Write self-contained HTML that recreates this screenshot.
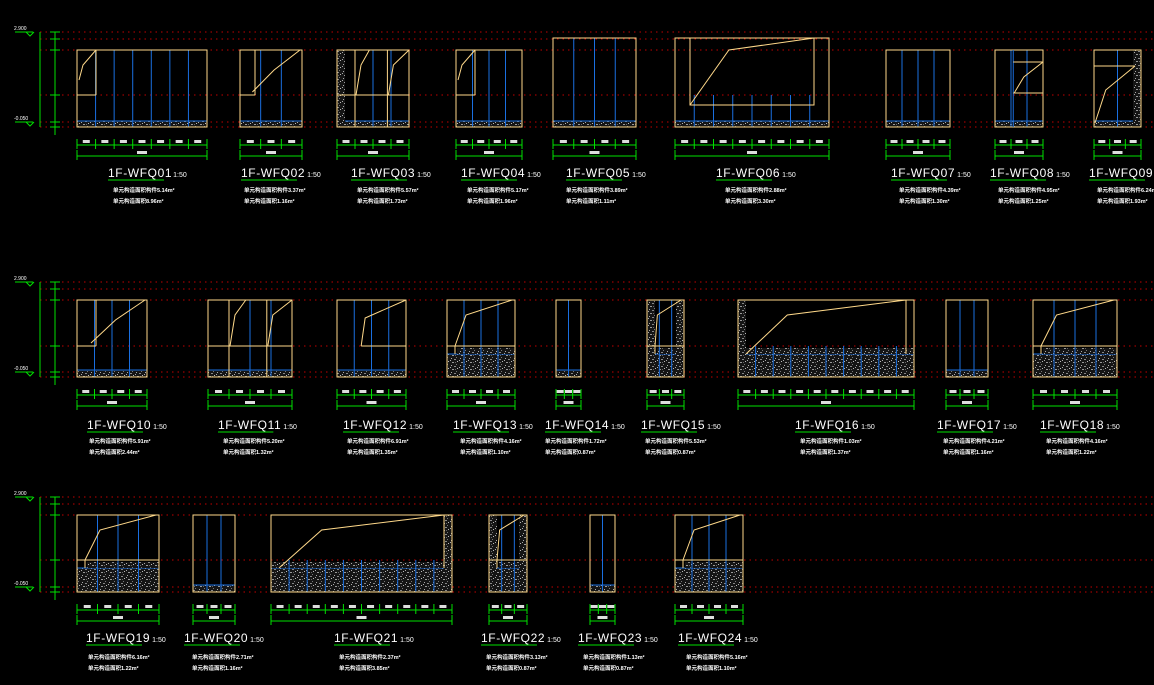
<!DOCTYPE html>
<html><head><meta charset="utf-8"><style>
html,body{margin:0;padding:0;background:#000;width:1154px;height:685px;overflow:hidden}
svg{display:block}
.t{font-family:"Liberation Sans",sans-serif;fill:#fff;font-size:12px;letter-spacing:0.6px}
.s{font-family:"Liberation Sans",sans-serif;fill:#fff;font-size:7px;letter-spacing:0}
.c{font-family:"Liberation Sans","Noto Sans CJK SC",sans-serif;fill:#fff;font-size:5.5px;font-weight:bold}
</style></head><body>
<svg id="g" width="1154" height="685" viewBox="0 0 1154 685" xmlns="http://www.w3.org/2000/svg">
<defs>
<pattern id="sp" width="9" height="7" patternUnits="userSpaceOnUse">
<rect width="9" height="7" fill="#151515"/>
<rect x="1" y="1" width="1" height="1" fill="#aaa"/><rect x="4" y="2" width="2" height="1" fill="#888"/>
<rect x="7" y="4" width="1" height="1" fill="#bbb"/><rect x="2" y="5" width="2" height="1" fill="#999"/>
<rect x="6" y="0" width="1" height="1" fill="#777"/><rect x="0" y="3" width="1" height="1" fill="#aaa"/>
<rect x="5" y="5" width="1" height="1" fill="#666"/>
</pattern>
</defs>
<g id="shapes"></g>
<text class="t" x="108" y="177">1F-WFQ01<tspan class="s" dx="1">1:50</tspan></text>
<text class="t" x="241" y="177">1F-WFQ02<tspan class="s" dx="2">1:50</tspan></text>
<text class="t" x="351" y="177">1F-WFQ03<tspan class="s" dx="2">1:50</tspan></text>
<text class="t" x="461" y="177">1F-WFQ04<tspan class="s" dx="2">1:50</tspan></text>
<text class="t" x="566" y="177">1F-WFQ05<tspan class="s" dx="2">1:50</tspan></text>
<text class="t" x="716" y="177">1F-WFQ06<tspan class="s" dx="2">1:50</tspan></text>
<text class="t" x="891" y="177">1F-WFQ07<tspan class="s" dx="2">1:50</tspan></text>
<text class="t" x="990" y="177">1F-WFQ08<tspan class="s" dx="2">1:50</tspan></text>
<text class="t" x="1089" y="177">1F-WFQ09<tspan class="s" dx="2">1:50</tspan></text>
<text class="t" x="87" y="429">1F-WFQ10<tspan class="s" dx="2">1:50</tspan></text>
<text class="t" x="218" y="429">1F-WFQ11<tspan class="s" dx="2">1:50</tspan></text>
<text class="t" x="343" y="429">1F-WFQ12<tspan class="s" dx="2">1:50</tspan></text>
<text class="t" x="453" y="429">1F-WFQ13<tspan class="s" dx="2">1:50</tspan></text>
<text class="t" x="545" y="429">1F-WFQ14<tspan class="s" dx="2">1:50</tspan></text>
<text class="t" x="641" y="429">1F-WFQ15<tspan class="s" dx="2">1:50</tspan></text>
<text class="t" x="795" y="429">1F-WFQ16<tspan class="s" dx="2">1:50</tspan></text>
<text class="t" x="937" y="429">1F-WFQ17<tspan class="s" dx="2">1:50</tspan></text>
<text class="t" x="1040" y="429">1F-WFQ18<tspan class="s" dx="2">1:50</tspan></text>
<text class="t" x="86" y="642">1F-WFQ19<tspan class="s" dx="2">1:50</tspan></text>
<text class="t" x="184" y="642">1F-WFQ20<tspan class="s" dx="2">1:50</tspan></text>
<text class="t" x="334" y="642">1F-WFQ21<tspan class="s" dx="2">1:50</tspan></text>
<text class="t" x="481" y="642">1F-WFQ22<tspan class="s" dx="2">1:50</tspan></text>
<text class="t" x="578" y="642">1F-WFQ23<tspan class="s" dx="2">1:50</tspan></text>
<text class="t" x="678" y="642">1F-WFQ24<tspan class="s" dx="2">1:50</tspan></text>
<g class="c">
<text x="113" y="192">单元构造面积构件5.14m²</text><text x="113" y="203">单元构造面积8.96m²</text>
<text x="244" y="192">单元构造面积构件3.37m²</text><text x="244" y="203">单元构造面积1.16m²</text>
<text x="357" y="192">单元构造面积构件5.57m²</text><text x="357" y="203">单元构造面积1.73m²</text>
<text x="467" y="192">单元构造面积构件5.17m²</text><text x="467" y="203">单元构造面积1.96m²</text>
<text x="566" y="192">单元构造面积构件3.89m²</text><text x="566" y="203">单元构造面积1.11m²</text>
<text x="725" y="192">单元构造面积构件2.88m²</text><text x="725" y="203">单元构造面积3.30m²</text>
<text x="899" y="192">单元构造面积构件4.39m²</text><text x="899" y="203">单元构造面积1.30m²</text>
<text x="998" y="192">单元构造面积构件4.95m²</text><text x="998" y="203">单元构造面积1.25m²</text>
<text x="1097" y="192">单元构造面积构件6.24m²</text><text x="1097" y="203">单元构造面积1.93m²</text>
<text x="89" y="443">单元构造面积构件5.91m²</text><text x="89" y="454">单元构造面积2.44m²</text>
<text x="223" y="443">单元构造面积构件5.20m²</text><text x="223" y="454">单元构造面积1.32m²</text>
<text x="347" y="443">单元构造面积构件6.91m²</text><text x="347" y="454">单元构造面积1.35m²</text>
<text x="460" y="443">单元构造面积构件4.16m²</text><text x="460" y="454">单元构造面积1.10m²</text>
<text x="545" y="443">单元构造面积构件1.72m²</text><text x="545" y="454">单元构造面积0.87m²</text>
<text x="645" y="443">单元构造面积构件5.53m²</text><text x="645" y="454">单元构造面积0.87m²</text>
<text x="800" y="443">单元构造面积构件1.03m²</text><text x="800" y="454">单元构造面积1.37m²</text>
<text x="943" y="443">单元构造面积构件4.21m²</text><text x="943" y="454">单元构造面积1.16m²</text>
<text x="1046" y="443">单元构造面积构件4.16m²</text><text x="1046" y="454">单元构造面积1.22m²</text>
<text x="88" y="659">单元构造面积构件6.16m²</text><text x="88" y="670">单元构造面积1.22m²</text>
<text x="192" y="659">单元构造面积构件2.71m²</text><text x="192" y="670">单元构造面积1.16m²</text>
<text x="339" y="659">单元构造面积构件2.37m²</text><text x="339" y="670">单元构造面积3.85m²</text>
<text x="486" y="659">单元构造面积构件3.13m²</text><text x="486" y="670">单元构造面积0.87m²</text>
<text x="583" y="659">单元构造面积构件1.13m²</text><text x="583" y="670">单元构造面积0.87m²</text>
<text x="686" y="659">单元构造面积构件5.16m²</text><text x="686" y="670">单元构造面积1.10m²</text>
</g>
</svg>
<script>
var G=document.getElementById('shapes'),h='';
var Y='#ffd98a',B='#1a6fe0',GR='#00e000',R='#c00000';
function L(a,b,c,d,col,w,da){h+='<line x1="'+a+'" y1="'+b+'" x2="'+c+'" y2="'+d+'" stroke="'+col+'" stroke-width="'+(w||1)+'"'+(da?' stroke-dasharray="'+da+'"':'')+'/>';}
function Rc(x,y,w,hh,st,f){h+='<rect x="'+x+'" y="'+y+'" width="'+w+'" height="'+hh+'" fill="'+(f||'none')+'" stroke="'+(st||'none')+'"/>';}
function P(pts,col){h+='<polyline points="'+pts+'" fill="none" stroke="'+col+'" stroke-width="1"/>';}
var rows=[{top:50,mid:95,band:121,bot:127,d1:145,d2:156,ty:172},
{top:300,mid:346,band:370,bot:377,d1:395,d2:406,ty:424},
{top:515,mid:560,band:585,bot:592,d1:610,d2:621,ty:637}];
rows.forEach(function(r){
 [r.top-18,r.top-11,r.top,r.mid,r.bot-5,r.bot].forEach(function(y){L(40,y,1154,y,R,1,'1.5,4');});
 L(40,r.top-18,40,r.bot,GR);L(55,r.top-18,55,r.bot+8,GR);
 [r.top-18,r.top-11,r.top,r.mid,r.bot-5,r.bot].forEach(function(y){L(50,y,60,y,GR);});
 L(15,r.top-18,33,r.top-18,GR);P('26,'+(r.top-18)+' 30,'+(r.top-14)+' 34,'+(r.top-18),GR);
 L(15,r.bot-5,33,r.bot-5,GR);P('26,'+(r.bot-5)+' 30,'+(r.bot-1)+' 34,'+(r.bot-5),GR);
 h+='<text x="14" y="'+(r.top-20)+'" fill="#fff" font-size="5" font-family="Liberation Sans">2.900</text>';
 h+='<text x="14" y="'+(r.bot-7)+'" fill="#fff" font-size="5" font-family="Liberation Sans">-0.050</text>';
});
var P_=[
[0,77,207,'c',19,7],[0,240,302,'c2',15,3],[0,337,409,'d',0,4,0,1],[0,456,522,'c',19,4],
[0,553,636,'n',0,4,1],[0,675,829,'w',0,8,1],[0,886,950,'n',0,4],[0,995,1043,'m',0,3],[0,1094,1141,'r',0,2,0,0,1],
[1,77,147,'c2',19,4],[1,208,292,'d',0,4],[1,337,406,'c3',0,4],[1,447,515,'s',0,4],[1,556,581,'n',0,2],
[1,647,684,'s',0,3,0,1,1],[1,738,914,'w2',0,10,0,1],[1,946,988,'n',0,3,0],[1,1033,1117,'s',0,4],
[2,77,159,'s',0,4],[2,193,235,'n',0,3],[2,271,452,'w2',0,10,0,0,1],[2,489,527,'s',0,3,0,1,1],[2,590,615,'n',0,2],[2,675,743,'s',0,4]];
P_.forEach(function(p){
 var r=rows[p[0]],x1=p[1],x2=p[2],t=p[3],top=p[6]?r.top-12:r.top,W=x2-x1,n=p[5];
 var deep=(t=='s'||t=='w2');
 var bt=deep?r.mid+8:r.band;
 Rc(x1,bt,W,r.bot-bt,B,'url(#sp)');
 if(deep)Rc(x1+(t=='s'?10:0),bt-6,W-(t=='s'?10:0),6,'none','url(#sp)');
 for(var i=1;i<n;i++){var x=x1+W*i/n;L(x,t=='w'||t=='w2'?r.mid:top,x,r.bot,B);}
 if(p[7])Rc(x1,top,8,r.bot-top,'none','url(#sp)');
 if(p[8])Rc(x2-8,top,8,r.bot-top,'none','url(#sp)');
 Rc(x1,top,W,r.bot-top,Y);
 var cx=x1+(p[4]||W*0.3);
 if(t=='c'||t=='c2'){L(x1,r.mid,cx,r.mid,Y);L(cx,top,cx,r.mid,Y);
   if(t=='c')P((x1+2)+','+(r.mid-15)+' '+(x1+6)+','+(top+15)+' '+cx+','+top,Y);
   else P((x1+W*0.2)+','+(r.mid-3)+' '+(x1+W*0.55)+','+(top+20)+' '+(x2-2)+','+top,Y);}
 if(t=='d'){var a=x1+W*0.25,b=x1+W*0.7;L(a,top,a,r.bot,Y);L(b,top,b,r.bot,Y);L(x1,r.mid,x2,r.mid,Y);
   P((a+1)+','+r.mid+' '+(a+6)+','+(top+15)+' '+(a+W*0.2)+','+top,Y);P((b+1)+','+r.mid+' '+(b+6)+','+(top+15)+' '+(x2)+','+top,Y);}
 if(t=='c3'){var a=x1+W*0.35;L(a,r.mid,x2,r.mid,Y);P(a+','+r.mid+' '+(a+4)+','+(top+18)+' '+x2+','+top,Y);}
 if(t=='s'){P((x1+8)+','+(bt-8)+' '+(x1+W*0.28)+','+(top+15)+' '+(x2-3)+','+top,Y);L(x1+8,bt-8,x1+8,bt,Y);L(x1,bt-8,x2,bt-8,Y);}
 if(t=='w'){var a=x1+15,b=x2-15;Rc(a,top,b-a,r.mid-top+10,Y);P(a+','+(r.mid+10)+' '+(x1+W*0.35)+','+(top+12)+' '+b+','+top,Y);}
 if(t=='w2'){var a=x1+8,b=x2-8;L(b,top,b,bt,Y);P(a+','+bt+' '+(x1+W*0.28)+','+(top+15)+' '+b+','+top,Y);}
 if(t=='m'){L(x1+W*0.38,top,x1+W*0.38,r.bot,B);L(x1+W*0.38,top+12,x2,top+12,Y);L(x1+W*0.38,r.mid-2,x2,r.mid-2,Y);
   P((x1+W*0.4)+','+(r.mid-2)+' '+(x1+W*0.6)+','+(top+27)+' '+x2+','+(top+12),Y);}
 if(t=='r'){L(x1,top+16,x2-6,top+16,Y);P((x1+1)+','+(r.bot-4)+' '+(x1+W*0.25)+','+(top+40)+' '+(x2-6)+','+(top+16),Y);}
 L(x1,r.d1,x2,r.d1,GR);L(x1,r.d2,x2,r.d2,GR);
 var k=Math.max(n,3);
 for(var i=0;i<=k;i++){var x=x1+W*i/k;L(x,r.d1-6,x,r.d1+4,GR);
  if(i<k)h+='<rect x="'+(x+W/k/2-3.5)+'" y="'+(r.d1-5)+'" width="7" height="3" fill="#ddd"/>';}
 L(x1,r.d2-6,x1,r.d2+4,GR);L(x2,r.d2-6,x2,r.d2+4,GR);
 h+='<rect x="'+((x1+x2)/2-5)+'" y="'+(r.d2-5)+'" width="10" height="3" fill="#ddd"/>';
});
G.innerHTML=h;
[].forEach.call(document.querySelectorAll('text.t'),function(t){
 var x=+t.getAttribute('x'),y=+t.getAttribute('y');
 var w=t.getComputedTextLength?t.getComputedTextLength():70;
 var l=document.createElementNS('http://www.w3.org/2000/svg','line');
 l.setAttribute('x1',x);l.setAttribute('x2',x+w*0.72);l.setAttribute('y1',y+3);l.setAttribute('y2',y+3);
 l.setAttribute('stroke',GR);document.getElementById('g').appendChild(l);
});
</script>
</body></html>
